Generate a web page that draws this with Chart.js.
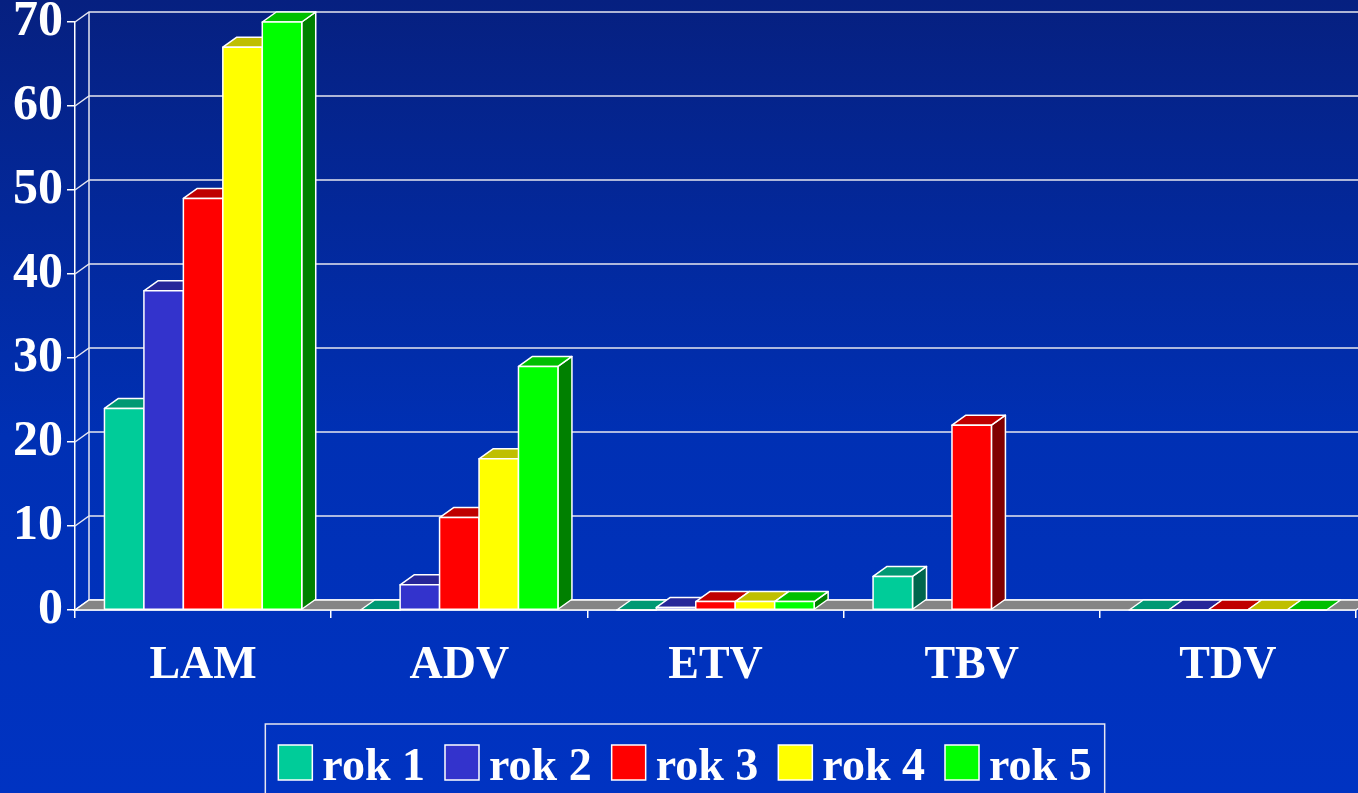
<!DOCTYPE html>
<html>
<head>
<meta charset="utf-8">
<script src="https://cdn.jsdelivr.net/npm/chart.js@4.4.1/dist/chart.umd.min.js"></script>
<style>
  html, body { margin: 0; padding: 0; }
  body { background: linear-gradient(to bottom, #062080 0%, #0030b4 55%, #0033c2 100%); }
  #wrap { width: 1358px; height: 793px; position: relative; }
</style>
</head>
<body>
<div id="wrap"><canvas id="chart"></canvas></div>
<script>
// data
const categories = ['LAM', 'ADV', 'ETV', 'TBV', 'TDV'];
const seriesNames = ['rok 1', 'rok 2', 'rok 3', 'rok 4', 'rok 5'];
const rok1 = [24, 0, 0, 4, 0];
const rok2 = [38, 3, 0.3, null, 0];
const rok3 = [49, 11, 1, 22, 0];
const rok4 = [67, 18, 1, null, 0];
const rok5 = [70, 29, 1, null, 0];
const yTicks = [0, 10, 20, 30, 40, 50, 60, 70];

const seriesColors = ['#00cc99', '#3333cc', '#ff0000', '#ffff00', '#00ff00'];

// depth of the fake 3D
const DX = 14, DY = 10;
const FONT = "'Liberation Serif', 'Times New Roman', serif";

function shade(hex, f) {
  const n = parseInt(hex.slice(1), 16);
  const r = Math.round(((n >> 16) & 255) * f);
  const g = Math.round(((n >> 8) & 255) * f);
  const b = Math.round((n & 255) * f);
  return `rgb(${r},${g},${b})`;
}

function poly(ctx, pts, fill, stroke) {
  ctx.beginPath();
  ctx.moveTo(pts[0][0], pts[0][1]);
  for (let i = 1; i < pts.length; i++) ctx.lineTo(pts[i][0], pts[i][1]);
  ctx.closePath();
  ctx.fillStyle = fill;
  ctx.fill();
  ctx.strokeStyle = stroke;
  ctx.stroke();
}

const depthPlugin = {
  id: 'depth',
  beforeDatasetsDraw(chart) {
    const { ctx, chartArea: a, scales: { y } } = chart;
    ctx.save();
    ctx.lineWidth = 1.5;
    ctx.strokeStyle = '#e6e6f0';
    // back wall grid + connectors to the front axis
    y.ticks.forEach(t => {
      const py = y.getPixelForValue(t.value);
      ctx.beginPath();
      ctx.moveTo(a.left, py);
      ctx.lineTo(a.left + DX, py - DY);
      ctx.lineTo(a.right + DX, py - DY);
      ctx.stroke();
    });
    ctx.beginPath();
    ctx.moveTo(a.left + DX, y.getPixelForValue(y.max) - DY);
    ctx.lineTo(a.left + DX, a.bottom - DY);
    ctx.stroke();
    // floor
    poly(ctx, [[a.left, a.bottom], [a.right, a.bottom], [a.right + DX, a.bottom - DY], [a.left + DX, a.bottom - DY]], '#858585', '#ffffff');
    ctx.restore();
  },
  afterDatasetsDraw(chart) {
    const { ctx } = chart;
    ctx.save();
    ctx.lineWidth = 1.5;
    ctx.lineJoin = 'round';
    categories.forEach((c, i) => {
      chart.data.datasets.forEach((ds, d) => {
        const v = ds.data[i];
        if (v === null || v === undefined) return;
        const bar = chart.getDatasetMeta(d).data[i];
        const { x, y, base, width } = bar.getProps(['x', 'y', 'base', 'width'], true);
        const l = x - width / 2, r = x + width / 2;
        const col = seriesColors[d];
        // side
        if (base - y > 0.5) {
          poly(ctx, [[r, base], [r + DX, base - DY], [r + DX, y - DY], [r, y]], shade(col, 0.5), '#ffffff');
        }
        // top
        poly(ctx, [[l, y], [r, y], [r + DX, y - DY], [l + DX, y - DY]], shade(col, 0.75), '#ffffff');
        // front
        poly(ctx, [[l, base], [r, base], [r, y], [l, y]], col, '#ffffff');
      });
    });
    ctx.restore();
  },
  // legend with a frame, drawn by hand so the spacing matches
  afterDraw(chart) {
    const { ctx } = chart;
    const box = 34, gapText = 10, gapItem = 20;
    ctx.save();
    ctx.font = `bold 46px ${FONT}`;
    const widths = chart.data.datasets.map(ds => ctx.measureText(ds.label).width);
    const total = widths.reduce((s, w) => s + box + gapText + w, 0) + gapItem * (widths.length - 1);
    let x = chart.width / 2 + 6 - total / 2;
    const top = 745;
    ctx.strokeStyle = '#e6e6f0';
    ctx.lineWidth = 1.5;
    ctx.strokeRect(x - 13, 724, total + 26, chart.height);
    ctx.textBaseline = 'alphabetic';
    chart.data.datasets.forEach((ds, i) => {
      ctx.fillStyle = ds.backgroundColor;
      ctx.fillRect(x, top, box, 35);
      ctx.strokeStyle = '#ffffff';
      ctx.strokeRect(x, top, box, 35);
      ctx.fillStyle = '#ffffff';
      ctx.fillText(ds.label, x + box + gapText, top + 35);
      x += box + gapText + widths[i] + gapItem;
    });
    ctx.restore();
  }
};

const datasets = [rok1, rok2, rok3, rok4, rok5].map((vals, i) => ({
  label: seriesNames[i],
  data: vals,
  backgroundColor: seriesColors[i],
  borderColor: '#ffffff',
  borderWidth: 1.5,
  categoryPercentage: 0.77,
  barPercentage: 1,
}));

new Chart(document.getElementById('chart'), {
  type: 'bar',
  data: { labels: categories, datasets },
  plugins: [depthPlugin],
  options: {
    responsive: true,
    maintainAspectRatio: false,
    animation: false,
    layout: { padding: { top: 22, right: 2, left: 0, bottom: 73 } },
    plugins: {
      tooltip: { enabled: false },
      legend: { display: false },
    },
    scales: {
      x: {
        grid: { drawOnChartArea: false, drawTicks: true, tickLength: 8, color: '#ffffff', lineWidth: 1.5, offset: true },
        border: { display: true, color: '#ffffff', width: 1.5 },
        ticks: { color: '#ffffff', font: { family: FONT, size: 46, weight: 'bold' }, padding: 21 },
        afterFit: s => { s.height = 110; },
      },
      y: {
        min: 0,
        max: 70,
        afterBuildTicks: s => { s.ticks = yTicks.map(v => ({ value: v })); },
        grid: { drawOnChartArea: false, drawTicks: true, tickLength: 8, color: '#ffffff', lineWidth: 1.5 },
        border: { display: true, color: '#ffffff', width: 1.5 },
        ticks: { color: '#ffffff', font: { family: FONT, size: 50, weight: 'bold' }, padding: 4 },
        afterFit: s => { s.width = 75; s.paddingTop = 0; s.paddingBottom = 0; },
      },
    },
  },
});
</script>
</body>
</html>
